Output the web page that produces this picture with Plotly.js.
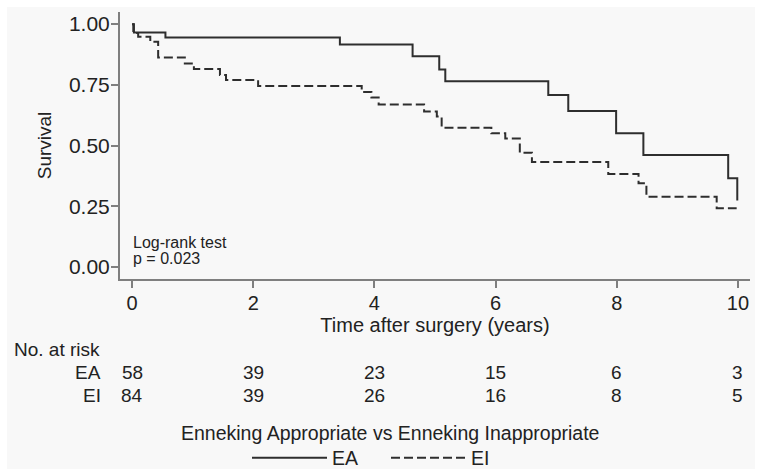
<!DOCTYPE html>
<html>
<head>
<meta charset="utf-8">
<script src="https://cdn.plot.ly/plotly-3.0.1.min.js"></script>
<style>html,body{margin:0;padding:0;background:#fff;}#chart{width:763px;height:474px;}</style>
</head>
<body>
<div id="chart"></div>
<script>
// ---- data ----
const eaTime = [0, 0.03, 0.55, 3.43, 4.63, 5.07, 5.17, 6.87, 7.20, 7.99, 8.44, 9.84, 9.99];
const eaSurv = [1.00, 0.966, 0.945, 0.916, 0.868, 0.813, 0.765, 0.708, 0.642, 0.550, 0.461, 0.365, 0.273];

const eiTime = [0, 0.02, 0.10, 0.30, 0.43, 0.87, 1.02, 1.45, 1.55, 2.08, 3.79, 3.95, 4.07, 4.82, 5.03, 5.11, 5.93, 6.16, 6.40, 6.60, 7.86, 8.36, 8.49, 9.65, 9.98];
const eiSurv = [1.00, 0.963, 0.948, 0.927, 0.863, 0.838, 0.815, 0.790, 0.770, 0.745, 0.720, 0.698, 0.669, 0.640, 0.619, 0.573, 0.550, 0.529, 0.470, 0.432, 0.383, 0.344, 0.289, 0.241, 0.241];

const riskTimes = [0, 2, 4, 6, 8, 10];
const riskEA = [58, 39, 23, 15, 6, 3];
const riskEI = [84, 39, 26, 16, 8, 5];

const xTicks = [0, 2, 4, 6, 8, 10];
const yTicks = [0, 0.25, 0.5, 0.75, 1];
const yTickText = ['0.00', '0.25', '0.50', '0.75', '1.00'];

const groupNames = ['EA', 'EI'];
const legendTitle = 'Enneking Appropriate vs Enneking Inappropriate';
const testText = ['Log-rank test', 'p = 0.023'];

// ---- layout geometry ----
const W = 763, H = 474;
const M = {l: 120, r: 13, t: 12, b: 195};
const pw = W - M.l - M.r, ph = H - M.t - M.b;
const px2x = px => (px - M.l) / pw;
const py2y = py => (H - M.b - py) / ph;

const FONT = 'Liberation Sans, Arial, Helvetica, sans-serif';
const TXT = '#222222';
const AX = '#7f7f7f';

const traces = [
  {x: eaTime, y: eaSurv, name: groupNames[0], type: 'scatter', mode: 'lines',
   line: {shape: 'hv', color: '#2e2e2e', width: 2}, hoverinfo: 'x+y+name'},
  {x: eiTime, y: eiSurv, name: groupNames[1], type: 'scatter', mode: 'lines',
   line: {shape: 'hv', color: '#2e2e2e', width: 2, dash: '9px,4px'}, hoverinfo: 'x+y+name'}
];

const annotations = [];
// risk table
annotations.push({xref: 'paper', yref: 'paper', x: px2x(12), y: py2y(349), xanchor: 'left', yanchor: 'middle',
  text: 'No. at risk', showarrow: false, font: {family: FONT, size: 19, color: TXT}});
[[riskEA, 372], [riskEI, 395]].forEach(([vals, py], gi) => {
  annotations.push({xref: 'paper', yref: 'paper', x: px2x(103), y: py2y(py), xanchor: 'right', yanchor: 'middle',
    text: groupNames[gi], showarrow: false, font: {family: FONT, size: 19, color: TXT}});
  vals.forEach((v, i) => annotations.push({xref: 'x', yref: 'paper', x: riskTimes[i], y: py2y(py),
    xanchor: 'center', yanchor: 'middle', text: String(v), showarrow: false,
    font: {family: FONT, size: 19, color: TXT}}));
});
// log-rank text
annotations.push({xref: 'x', yref: 'paper', x: 0, y: py2y(242.5), xanchor: 'left', yanchor: 'middle',
  text: testText[0], showarrow: false, font: {family: FONT, size: 16, color: TXT}, xshift: -1});
annotations.push({xref: 'x', yref: 'paper', x: 0, y: py2y(258.5), xanchor: 'left', yanchor: 'middle',
  text: testText[1], showarrow: false, font: {family: FONT, size: 16, color: TXT}, xshift: -1});
// legend heading
annotations.push({xref: 'paper', yref: 'paper', x: px2x(389.5), y: py2y(433), xanchor: 'center', yanchor: 'middle',
  text: legendTitle, showarrow: false, font: {family: FONT, size: 19.5, color: TXT}});

const layout = {
  width: W, height: H,
  margin: M,
  paper_bgcolor: '#ffffff',
  plot_bgcolor: '#f8f8f8',
  font: {family: FONT, color: TXT},
  showlegend: true,
  legend: {orientation: 'h', xref: 'container', yref: 'container',
    x: 247 / W, xanchor: 'left', y: 1 - 458 / H, yanchor: 'middle',
    bgcolor: 'rgba(0,0,0,0)', font: {family: FONT, size: 19.5, color: TXT}, itemwidth: 75,
    entrywidth: 49, traceorder: 'normal'},
  xaxis: {range: [-0.2, 10.2], tickvals: xTicks, ticktext: xTicks.map(String),
    showgrid: false, zeroline: false, showline: true, linecolor: AX, linewidth: 2,
    ticks: 'outside', ticklen: 7, tickwidth: 2, tickcolor: AX, ticklabelstandoff: -2,
    tickfont: {family: FONT, size: 20, color: TXT},
    title: {text: 'Time after surgery (years)', font: {family: FONT, size: 20, color: TXT}, standoff: 1}},
  yaxis: {range: [-0.05, 1.05], tickvals: yTicks, ticktext: yTickText,
    showgrid: false, zeroline: false, showline: true, linecolor: AX, linewidth: 2,
    ticks: 'outside', ticklen: 7, tickwidth: 2, tickcolor: AX, ticklabelstandoff: -3,
    tickfont: {family: FONT, size: 21, color: TXT},
    title: {text: 'Survival', font: {family: FONT, size: 19, color: TXT}, standoff: 12}},
  shapes: [{type: 'rect', xref: 'paper', yref: 'paper', layer: 'below',
    x0: px2x(7), x1: px2x(755), y0: py2y(469), y1: py2y(7),
    fillcolor: '#f8f8f8', line: {width: 0}}],
  annotations: annotations
};

Plotly.newPlot('chart', traces, layout, {displayModeBar: false, staticPlot: true});
</script>
</body>
</html>
